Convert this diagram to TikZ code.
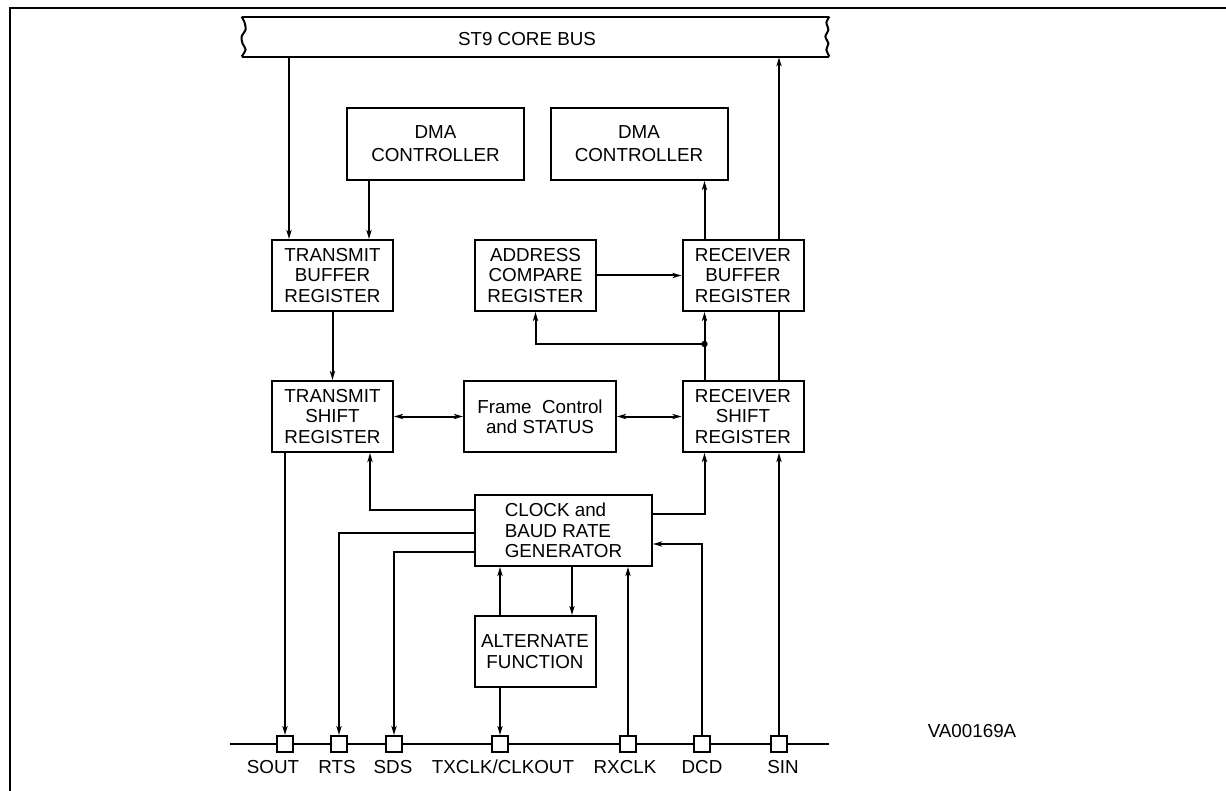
\documentclass[tikz,border=0pt]{standalone}
\usepackage{fontspec}
\setmainfont{Liberation Sans}
\usetikzlibrary{arrows.meta}
\newcommand\blkfont{\fontsize{9.4}{10.2}\selectfont}
\newcommand\dmafont{\fontsize{9.4}{11.5}\selectfont}

\begin{document}
\begin{tikzpicture}[x=0.5pt,y=-0.5pt,
  con/.style={line width=1pt},
  tip/.tip={Stealth[length=4.5pt,width=2.6pt,inset=1.2pt]},
  arr/.style={con,-tip},
  darr/.style={con,tip-tip},
  blk/.style={draw,line width=1pt,inner sep=0pt,align=center,font=\blkfont,
    minimum width=60.5pt,minimum height=35.5pt},
  wide/.style={blk,minimum width=88.5pt,minimum height=36pt},
  pinbox/.style={draw,line width=1pt,fill=white,inner sep=0pt,minimum size=8pt},
  pinlbl/.style={font=\blkfont,inner sep=0pt}]

\useasboundingbox (0,0) rectangle (1226,791);
\draw[con] (10,791) -- (10,8.5) -- (1226,8.5);

% core bus with broken ends
\node[minimum width=293.5pt,minimum height=20pt,inner sep=0pt] (bus) at (535.5,37) {};
\node[pinlbl] (bustxt) at (527,39) {ST9 CORE BUS};
\draw[con] (bus.north west) -- (bus.north east);
\draw[con] (bus.south west) -- (bus.south east);
\draw[con,shift={(bus.north west)}] plot[smooth] coordinates {(0,0) (3,6) (4,13) (0,20) (1,27) (4,33) (0,40)};
\draw[con,shift={(bus.north east)}] plot[smooth] coordinates {(0,0) (-3,6) (-1,13) (-4,20) (-1,27) (-3,33) (0,40)};

\node[wide,font=\dmafont] (dmat) at (435.5,144) {DMA\\CONTROLLER};
\node[wide,font=\dmafont] (dmar) at (639,144) {DMA\\CONTROLLER};

\node[blk] (tb) at (332.5,275.5) {TRANSMIT\\BUFFER\\REGISTER};
\node[blk] (acr) at (535.5,275.5) {ADDRESS\\COMPARE\\REGISTER};
\node[blk] (rb) at (743,275.5) {RECEIVER\\BUFFER\\REGISTER};

\node[blk] (tsr) at (332.5,416.5) {TRANSMIT\\SHIFT\\REGISTER};
\node[blk,minimum width=76pt] (fcs) at (540,416.5) {Frame~ Control\\and STATUS};
\node[blk] (rsr) at (743,416.5) {RECEIVER\\SHIFT\\REGISTER};

\node[wide,align=left,minimum height=35.5pt] (clk) at (563.5,530.5) {CLOCK and\\BAUD RATE\\GENERATOR};
\node[blk] (alt) at (535,651.5) {ALTERNATE\\FUNCTION};

% pins
\coordinate (pl) at (230,744);
\coordinate (pr) at (829,744);
\draw[con] (pl) -- (pr);
\foreach \x/\lx/\t/\n in {285/273/SOUT/sout,339/337/RTS/rts,394/393/SDS/sds,
  500/503/{TXCLK/CLKOUT}/tx,628/625/RXCLK/rx,702/702/DCD/dcd,779/783/SIN/sin}
{
  \node[pinbox] (p\n) at (\x,744) {};
  \node[pinlbl] (l\n) at (\lx,767) {\t};
}
\node[pinlbl] (ref) at (972,731) {VA00169A};

% transmit side
\draw[arr] ([xshift=-21.75pt]tb.north |- bus.south) -- ([xshift=-21.75pt]tb.north);
\draw[arr] ([xshift=18.25pt]tb.north |- dmat.south) -- ([xshift=18.25pt]tb.north);
\draw[arr] (tb.south) -- (tsr.north);
\draw[arr] (psout.north |- tsr.south) -- (psout.north);

% receive side
\draw[arr] ([xshift=-19.25pt]rb.north) -- ([xshift=-19.25pt]rb.north |- dmar.south);
\draw[arr] ([xshift=18pt]rb.north) -- ([xshift=18pt]rb.north |- bus.south);
\draw[con] ([xshift=18pt]rsr.north) -- ([xshift=18pt]rb.south);
\draw[arr] ([xshift=-19.25pt]rsr.north) -- ([xshift=-19.25pt]rb.south);
\coordinate (jn) at (704.5,344);
\draw[arr] (jn) -| (acr.south);
\fill (jn) circle[radius=1.6pt];
\draw[arr] (acr.east) -- (rb.west);
\draw[arr] (psin.north) -- (psin.north |- rsr.south);

\draw[darr] (tsr.east) -- (fcs.west);
\draw[darr] (fcs.east) -- (rsr.west);

% clock
\draw[arr] ([yshift=10.25pt]clk.west) -| ([xshift=18.75pt]tsr.south);
\draw[arr] ([yshift=8.25pt]clk.east) -| ([xshift=-19.25pt]rsr.south);
\draw[arr] ([yshift=-1.25pt]clk.west) -| (prts.north);
\draw[arr] ([yshift=-10.75pt]clk.west) -| (psds.north);
\draw[arr] (ptx.north |- alt.north) -- (ptx.north |- clk.south);
\draw[arr] ([xshift=4.25pt]clk.south) -- ([xshift=4.25pt]clk.south |- alt.north);
\draw[arr] (ptx.north |- alt.south) -- (ptx.north);
\draw[arr] (prx.north) -- (prx.north |- clk.south);
\draw[arr] (pdcd.north) |- ([yshift=-6.75pt]clk.east);

\end{tikzpicture}
\end{document}
